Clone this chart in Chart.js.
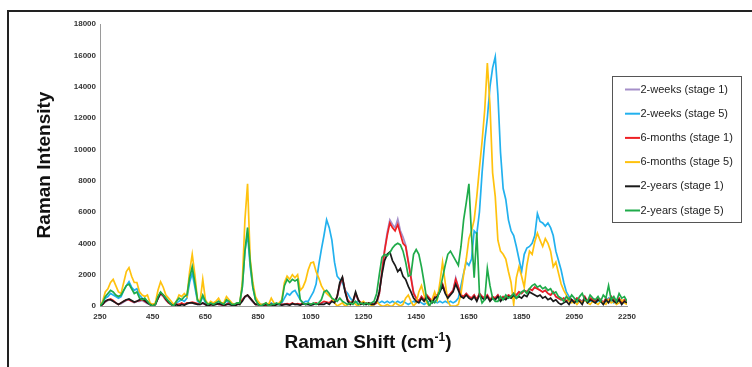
<!DOCTYPE html>
<html>
<head>
<meta charset="utf-8">
<title>Raman spectra</title>
<script src="https://cdn.jsdelivr.net/npm/chart.js@4.4.1/dist/chart.umd.min.js"></script>
<style>
  html, body { margin: 0; padding: 0; background: #fff; }
  #wrap { position: relative; width: 752px; height: 367px; overflow: hidden; }
  #frame { position: absolute; left: 7px; top: 10px; width: 800px; height: 400px;
           border-top: 2px solid #222; border-left: 2px solid #222; }
  canvas { position: absolute; left: 0; top: 0; }
</style>
</head>
<body>
<div id="wrap">
  <div id="frame"></div>
  <canvas id="ramanChart" width="752" height="367"></canvas>
</div>
<script>
// ---- spectra, sampled every 10 cm-1 from 250 to 2250 ----
const SHIFT_START = 250;
const SHIFT_STEP = 10;

const xTicks = [250, 450, 650, 850, 1050, 1250, 1450, 1650, 1850, 2050, 2250];
const yTicks = [0, 2000, 4000, 6000, 8000, 10000, 12000, 14000, 16000, 18000];

const seriesNames = [
  '2-weeks (stage 1)', '2-weeks (stage 5)',
  '6-months (stage 1)', '6-months (stage 5)',
  '2-years (stage 1)', '2-years (stage 5)'
];
const seriesColors = ['#a58fc9', '#22b1ee', '#ee2024', '#ffc20e', '#1a1a1a', '#1fab4a'];

const weeks2Stage1 = [
  0, 100, 250, 350, 400, 300, 200, 100, 150, 250,
  350, 400, 300, 200, 300, 300, 350, 250, 150, 100,
  0, 100, 450, 750, 600, 350, 200, 100, 0, 100,
  100, 150, 100, 150, 200, 200, 150, 100, 100, 150,
  100, 0, 100, 100, 150, 100, 50, 0, 100, 150,
  100, 0, 100, 150, 350, 550, 650, 450, 250, 100,
  50, 0, 100, 50, 100, 50, 50, 100, 100, 100,
  100, 100, 100, 150, 100, 100, 100, 150, 100, 100,
  100, 100, 150, 100, 150, 250, 200, 200, 300, 250,
  550, 1300, 1750, 950, 350, 200, 250, 750, 350, 200,
  100, 150, 100, 150, 100, 200, 800, 2200, 3600, 4700,
  5500, 5200, 5000, 5550, 4800, 4400, 3900, 2900, 1900, 900,
  500, 300, 600, 400, 700, 500, 300, 600, 700, 1000,
  1400, 900, 600, 800, 1000, 1800, 1200, 700, 600, 800,
  600, 500, 700, 400, 800, 600, 500, 700, 400, 600,
  500, 700, 400, 600, 500, 700, 600, 800, 700, 900,
  800, 1000, 900, 1100, 1000, 1200, 1100, 1000, 900, 1000,
  800, 700, 900, 600, 500, 400, 500, 300, 500, 400,
  300, 500, 400, 200, 600, 300, 500, 400, 300, 500,
  400, 200, 500, 300, 600, 400, 300, 500, 200, 400,
  300
];

const weeks2Stage5 = [
  0, 200, 500, 600, 800, 700, 600, 500, 600, 1000,
  1300, 1550, 1200, 1000, 1100, 700, 500, 400, 300, 100,
  100, 100, 500, 850, 700, 500, 300, 200, 100, 200,
  300, 400, 300, 500, 1500, 2100, 1200, 300, 200, 600,
  200, 100, 200, 100, 200, 300, 100, 200, 300, 200,
  100, 100, 200, 100, 1200, 3500, 4600, 2500, 1200, 400,
  200, 100, 100, 100, 100, 200, 100, 100, 100, 200,
  500, 800, 700, 900, 1000, 700, 400, 200, 300, 300,
  600, 900, 1400, 2600, 3600, 4500, 5500, 5000, 4200, 2800,
  1900, 1700, 1500, 1000, 800, 500, 300, 200, 300, 200,
  100, 100, 200, 100, 200, 300, 200, 300, 200, 300,
  200, 300, 200, 300, 200, 300, 200, 100, 200, 300,
  200, 300, 200, 100, 200, 300, 200, 300, 200, 300,
  200, 300, 200, 300, 200, 300, 500, 1300, 2100, 2800,
  2600, 3000, 4800, 4600, 6000, 8500, 10500, 12000, 14000, 15200,
  15900, 13500, 9800, 7500, 6800, 5500, 4800, 4500, 3800, 3000,
  2200, 3300, 3700, 3800, 4000, 4500, 5900, 5400, 5300, 5100,
  5300, 5000, 4500, 3500, 2900, 2300, 1500, 900, 600, 400,
  300, 200, 400, 300, 500, 200, 300, 400, 200, 300,
  400, 200, 300, 500, 300, 200, 400, 300, 200, 300,
  200
];

const months6Stage1 = [
  0, 100, 300, 400, 450, 350, 200, 100, 200, 300,
  400, 400, 300, 250, 300, 350, 400, 300, 200, 100,
  0, 100, 500, 800, 650, 400, 200, 100, 0, 100,
  100, 200, 100, 200, 200, 250, 200, 150, 100, 200,
  100, 0, 100, 100, 200, 100, 100, 0, 100, 200,
  100, 0, 100, 200, 400, 600, 700, 500, 300, 100,
  100, 0, 100, 50, 100, 100, 50, 100, 150, 100,
  100, 150, 100, 200, 100, 150, 100, 200, 100, 150,
  100, 150, 200, 100, 200, 300, 250, 200, 350, 300,
  600, 1400, 1800, 1000, 400, 200, 300, 800, 400, 200,
  100, 200, 100, 200, 100, 200, 800, 2200, 3500, 4500,
  5300, 5000, 4800, 5200, 4600, 4000, 3800, 2800, 1800, 800,
  500, 300, 600, 400, 700, 500, 300, 600, 700, 1000,
  1400, 900, 600, 800, 1000, 1700, 1200, 700, 600, 800,
  600, 500, 700, 400, 800, 600, 500, 700, 400, 600,
  500, 700, 400, 600, 500, 700, 600, 800, 700, 900,
  800, 1000, 900, 1100, 1000, 1200, 1100, 1000, 900, 1000,
  800, 700, 900, 600, 500, 400, 500, 300, 500, 400,
  300, 500, 400, 200, 600, 300, 500, 400, 300, 500,
  400, 200, 500, 300, 600, 400, 300, 500, 200, 400,
  300
];

const months6Stage5 = [
  0, 300, 900, 1100, 1500, 1700, 1300, 900, 800, 1500,
  2200, 2450, 1900, 1500, 1500, 900, 700, 600, 700, 200,
  100, 200, 1000, 1550, 1200, 700, 500, 300, 100, 300,
  700, 600, 800, 600, 2200, 3300, 2000, 400, 300, 1700,
  400, 100, 300, 200, 300, 500, 200, 200, 600, 400,
  200, 100, 200, 100, 1500, 5500, 7800, 3000, 1500, 600,
  300, 100, 100, 200, 100, 500, 200, 100, 200, 400,
  1500, 1900, 1700, 2000, 1800, 2000, 1000, 1200, 1600, 2300,
  2750, 2800, 2200, 1800, 1300, 1000, 800, 650, 500, 200,
  0, 100, 200, 0, 100, 100, 300, 100, 0, 200,
  300, 100, 200, 0, 100, 300, 100, 0, 0, 100,
  0, 0, 200, 100, 0, 100, 500, 700, 300, 0,
  200, 900, 1300, 700, 200, 0, 400, 900, 400, 1500,
  2800, 1500, 300, 0, 0, 0, 100, 800, 2000, 3000,
  4300, 4800, 5500, 7000, 8800, 10500, 12500, 15500, 12800, 8500,
  7000, 4200, 3500, 3300, 3000, 2200, 1500, 100, 1800, 2500,
  1900, 1200, 2600, 3500, 3300, 4100, 4650, 4200, 3800, 4300,
  4000, 3500, 2500, 2800, 2100, 1400, 1000, 700, 300, 200,
  300, 100, 300, 200, 400, 200, 100, 300, 200, 100,
  300, 200, 100, 400, 200, 300, 100, 200, 400, 200,
  100
];

const years2Stage1 = [
  0, 100, 300, 400, 400, 300, 200, 100, 200, 300,
  400, 450, 350, 250, 300, 400, 450, 350, 200, 100,
  0, 100, 500, 850, 700, 450, 250, 100, 0, 100,
  0, 100, 50, 150, 200, 200, 150, 100, 100, 200,
  100, 0, 100, 50, 100, 150, 100, 50, 100, 100,
  50, 0, 100, 100, 300, 600, 700, 500, 300, 100,
  100, 0, 50, 100, 50, 100, 0, 100, 100, 50,
  100, 100, 50, 150, 100, 100, 50, 150, 100, 100,
  50, 100, 150, 100, 100, 100, 200, 100, 300, 200,
  600, 1500, 1850, 900, 300, 100, 300, 900, 400, 100,
  200, 100, 200, 100, 100, 300, 900, 2000, 2900, 3300,
  3450, 2900, 2600, 2200, 2400, 1900, 1700, 1250, 900, 500,
  300, 200, 500, 300, 600, 400, 200, 500, 600, 900,
  1300, 800, 500, 700, 900, 1400, 1000, 600, 500, 700,
  500, 400, 600, 300, 700, 500, 400, 600, 300, 500,
  400, 600, 300, 500, 400, 600, 500, 700, 500, 600,
  500, 700, 600, 900, 800, 700, 600, 700, 500, 600,
  400, 500, 300, 400, 200, 100, 200, 300, 100, 400,
  200, 400, 300, 100, 500, 200, 400, 300, 200, 400,
  300, 100, 400, 200, 500, 300, 200, 400, 100, 300,
  200
];

const years2Stage5 = [
  0, 200, 600, 800, 1000, 900, 700, 600, 700, 1000,
  1300, 1400, 1100, 800, 900, 500, 400, 500, 300, 100,
  0, 100, 600, 900, 700, 500, 300, 100, 0, 300,
  500, 400, 600, 700, 1800, 2500, 1500, 400, 200, 700,
  300, 100, 200, 100, 200, 300, 200, 100, 400, 300,
  100, 100, 200, 200, 1200, 3500, 5000, 2800, 1200, 400,
  100, 0, 100, 200, 0, 100, 100, 200, 100, 300,
  1300, 1700, 1500, 1700, 1600, 1700, 400, 200, 100, 200,
  100, 200, 100, 200, 400, 900, 1000, 800, 500, 400,
  300, 500, 300, 200, 100, 200, 100, 300, 100, 200,
  100, 200, 100, 200, 300, 800, 2000, 3100, 3300, 3200,
  3400, 3700, 3900, 4000, 3900, 3500, 2800, 1900, 2000, 3300,
  3600, 3300, 2500, 1500, 400, 0, 300, 200, 500, 1000,
  1800, 2600, 3300, 3500, 3200, 2900, 2600, 3800, 5500, 6600,
  7800, 4500, 1800, 4700, 800, 200, 400, 2400, 1300, 500,
  300, 300, 600, 400, 700, 500, 600, 800, 500, 700,
  900, 1000, 800, 1100, 1300, 1400, 1200, 1300, 1100, 1200,
  1000, 1100, 800, 900, 600, 500, 300, 600, 400, 700,
  500, 300, 600, 800, 400, 300, 700, 500, 400, 600,
  300, 700, 500, 1300, 400, 600, 300, 800, 500, 600,
  300
];

const seriesValues = [weeks2Stage1, weeks2Stage5, months6Stage1, months6Stage5, years2Stage1, years2Stage5];
const shifts = weeks2Stage1.map((_, i) => SHIFT_START + i * SHIFT_STEP);

const FONT = '"Liberation Sans", Arial, Helvetica, sans-serif';

// later series sit on top, like the spreadsheet original
const datasets = seriesValues.map((vals, i) => ({
  label: seriesNames[i],
  data: vals.map((y, j) => ({ x: shifts[j], y })),
  borderColor: seriesColors[i],
  backgroundColor: seriesColors[i],
  borderWidth: 1.7,
  pointRadius: 0,
  fill: false,
  tension: 0,
  order: seriesValues.length - 1 - i
}));

// boxed legend inside the right side + x-axis title with superscript
const overlay = {
  id: 'overlay',
  afterDraw(chart) {
    const ctx = chart.ctx;
    ctx.save();

    // legend box
    const bx = 612, by = 76, bw = 129, bh = 146;
    ctx.strokeStyle = '#555';
    ctx.lineWidth = 1;
    ctx.strokeRect(bx + 0.5, by + 0.5, bw, bh);
    ctx.font = '11px ' + FONT;
    ctx.textBaseline = 'middle';
    ctx.textAlign = 'left';
    seriesNames.forEach((name, i) => {
      const y = 89.5 + i * 24.2;
      ctx.strokeStyle = seriesColors[i];
      ctx.lineWidth = 2;
      ctx.beginPath();
      ctx.moveTo(625, y);
      ctx.lineTo(640, y);
      ctx.stroke();
      ctx.fillStyle = '#222';
      ctx.fillText(name, 640.5, y);
    });

    // x-axis title: Raman Shift (cm-1)
    const main1 = 'Raman Shift (cm', sup = '-1', main2 = ')';
    const bigFont = 'bold 19px ' + FONT, supFont = 'bold 12px ' + FONT;
    ctx.font = bigFont;
    const w1 = ctx.measureText(main1).width, w2 = ctx.measureText(main2).width;
    ctx.font = supFont;
    const ws = ctx.measureText(sup).width;
    let x = 368 - (w1 + ws + w2) / 2;
    const base = 348;
    ctx.fillStyle = '#111';
    ctx.textBaseline = 'alphabetic';
    ctx.font = bigFont;
    ctx.fillText(main1, x, base);
    x += w1;
    ctx.font = supFont;
    ctx.fillText(sup, x, base - 7);
    x += ws;
    ctx.font = bigFont;
    ctx.fillText(main2, x, base);

    ctx.restore();
  }
};

new Chart(document.getElementById('ramanChart'), {
  type: 'line',
  data: { datasets },
  options: {
    responsive: false,
    animation: false,
    layout: { padding: { left: 0, right: 125, top: 24, bottom: 0 } },
    plugins: { legend: { display: false }, tooltip: { enabled: false } },
    scales: {
      x: {
        type: 'linear',
        min: 250,
        max: 2250,
        afterFit(scale) { scale.height = 61; },
        afterBuildTicks(scale) { scale.ticks = xTicks.map(v => ({ value: v })); },
        grid: { display: false, drawTicks: false },
        border: { display: true, color: '#9a9a9a', width: 1 },
        ticks: {
          font: { family: FONT, size: 8, weight: 'bold' },
          color: '#333',
          padding: 6,
          maxRotation: 0,
          autoSkip: false,
          callback: v => String(v)
        }
      },
      y: {
        min: 0,
        max: 18000,
        afterFit(scale) { scale.width = 100; },
        afterBuildTicks(scale) { scale.ticks = yTicks.map(v => ({ value: v })); },
        grid: { display: false, drawTicks: false },
        border: { display: true, color: '#9a9a9a', width: 1 },
        ticks: {
          font: { family: FONT, size: 8, weight: 'bold' },
          color: '#333',
          padding: 4,
          autoSkip: false,
          callback: v => String(v)
        },
        title: {
          display: true,
          text: 'Raman Intensity',
          color: '#111',
          font: { family: FONT, size: 19, weight: 'bold' },
          padding: { top: 33, bottom: 0 }
        }
      }
    }
  },
  plugins: [overlay]
});
</script>
</body>
</html>
